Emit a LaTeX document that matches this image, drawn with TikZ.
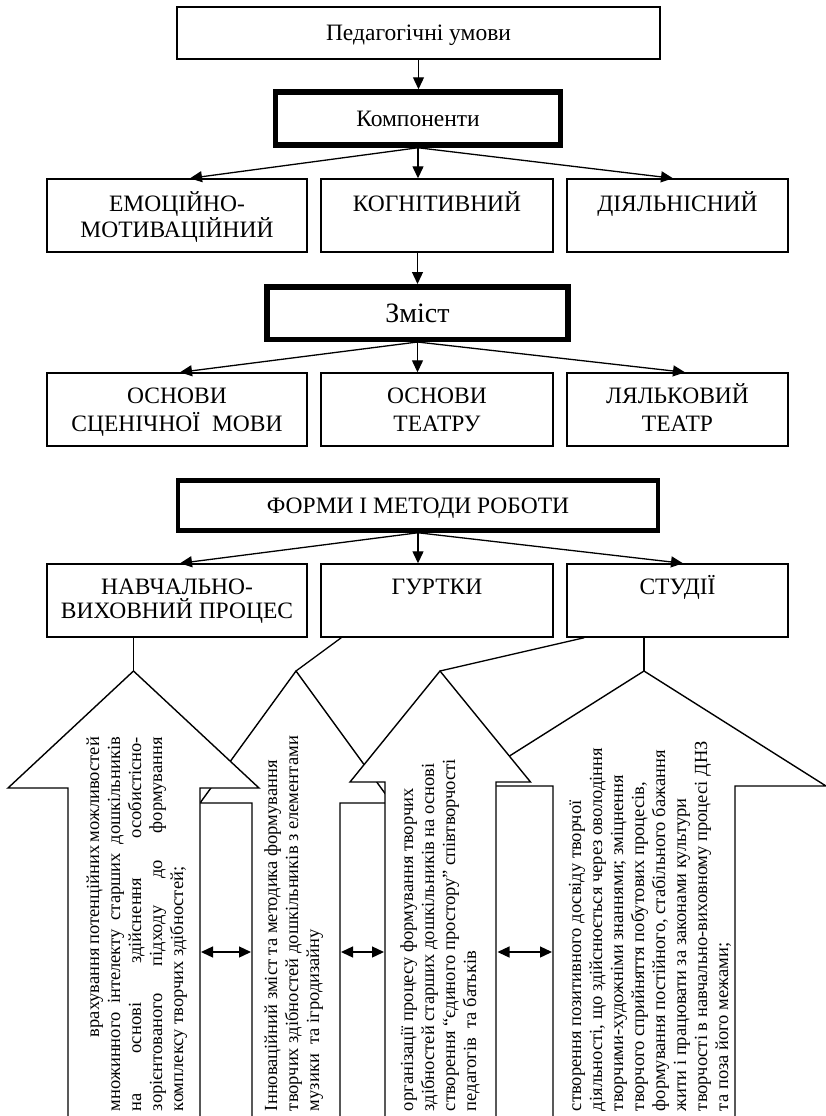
\documentclass[tikz,border=0pt]{standalone}
\usepackage{fontspec}
\setmainfont{Liberation Serif}
\usetikzlibrary{arrows.meta}

% type sizes (1pt of the canvas = 1 unit)
\newcommand\fntbig{\fontsize{23.5}{26}\selectfont}
\newcommand\fnthuge{\fontsize{28}{32}\selectfont}
\newcommand\fntsmall{\fontsize{18.5}{21}\selectfont}

% centred lines with a given line pitch, baseline = first line
\newcommand\stackc[2]{\vtop{\baselineskip=#1\lineskiplimit=-100pt\halign{\hfil##\hfil\cr#2\cr}}}
% left-aligned lines of the small text, baseline = first line
\newcommand\stackl[1]{\fntsmall\vtop{\lineskiplimit=-100pt\halign{##\hfil\cr#1\cr}}}

\begin{document}
\begin{tikzpicture}[x=1pt,y=-1pt,
  thinbox/.style={draw, line width=1.4pt, inner sep=0pt, fill=white},
  thickbox/.style={draw, line width=5.5pt, inner sep=0pt, fill=white},
  lbl/.style={anchor=base, inner sep=0pt, outer sep=0pt, font=\fntbig},
  conn/.style={line width=1.3pt, -{Triangle[length=12pt,width=11pt]}},
  link/.style={line width=1.3pt},
  twoway/.style={line width=1.3pt, {Triangle[length=12pt,width=11pt]}-{Triangle[length=12pt,width=11pt]}},
  blockarrow/.style={draw, fill=white, line width=1.4pt, line join=miter},
  vtext/.style={rotate=90, anchor=base west, inner sep=0pt, outer sep=0pt}
]
\useasboundingbox (0,0) rectangle (826,1116);
\clip (0,0) rectangle (826,1116);

% ---------- upper part: conditions and components ----------
\node[thinbox, minimum width=483pt, minimum height=52pt, font=\fntbig,
      text height=15pt, text depth=0pt] (cond) at (418.5,33) {Педагогічні умови};
\node[thickbox, minimum width=285pt, minimum height=53pt, font=\fntbig,
      text height=15pt, text depth=0pt] (comp) at (418,118.5) {Компоненти};

\node[thinbox, minimum width=260pt, minimum height=73pt] (emo) at (177,215.5) {};
\node[thinbox, minimum width=232pt, minimum height=73pt] (cog) at (437,215.5) {};
\node[thinbox, minimum width=221pt, minimum height=73pt] (act) at (677.5,215.5) {};
\node[lbl] (emoT) at (177,211) {\stackc{26pt}{ЕМОЦІЙНО-\cr МОТИВАЦІЙНИЙ}};
\node[lbl] (cogT) at (437,211) {КОГНІТИВНИЙ};
\node[lbl] (actT) at (677.5,211) {ДІЯЛЬНІСНИЙ};

\draw[conn] (cond.south) -- (cond.south |- comp.north);
\draw[conn] (comp.south) -- ([xshift=13pt]emo.north);
\draw[conn] (comp.south) -- (comp.south |- cog.north);
\draw[conn] (comp.south) -- ([xshift=-4.5pt]act.north);

% ---------- content ----------
\node[thickbox, minimum width=301pt, minimum height=52.5pt, font=\fnthuge,
      text height=18pt, text depth=0pt] (cont) at (417.5,313) {Зміст};
\draw[conn] (cont.north |- cog.south) -- (cont.north);

\node[thinbox, minimum width=260pt, minimum height=73pt] (lang) at (177,409.5) {};
\node[thinbox, minimum width=232pt, minimum height=73pt] (theat) at (437,409.5) {};
\node[thinbox, minimum width=221pt, minimum height=73pt] (pup) at (677.5,409.5) {};
\node[lbl] (langT) at (177,403) {\stackc{28pt}{ОСНОВИ\cr СЦЕНІЧНОЇ~ МОВИ}};
\node[lbl] (theatT) at (437,403) {\stackc{28pt}{ОСНОВИ\cr ТЕАТРУ}};
\node[lbl] (pupT) at (677.5,403) {\stackc{28pt}{ЛЯЛЬКОВИЙ\cr ТЕАТР}};

\draw[conn] (cont.south) -- ([xshift=3pt]lang.north);
\draw[conn] (cont.south) -- (cont.south |- theat.north);
\draw[conn] (cont.south) -- ([xshift=7.5pt]pup.north);

% ---------- forms and methods ----------
\node[thickbox, line width=4.5pt, minimum width=480pt, minimum height=50pt, font=\fntbig,
      text height=15pt, text depth=0pt] (forms) at (418,505.5) {ФОРМИ І МЕТОДИ РОБОТИ};

\node[thinbox, minimum width=260pt, minimum height=73pt] (edu) at (177,600.5) {};
\node[thinbox, minimum width=232pt, minimum height=73pt] (club) at (437,600.5) {};
\node[thinbox, minimum width=221pt, minimum height=73pt] (stud) at (677.5,600.5) {};
\node[lbl] (eduT) at (177,594) {\stackc{24pt}{НАВЧАЛЬНО-\cr ВИХОВНИЙ ПРОЦЕС}};
\node[lbl] (clubT) at (437,594) {ГУРТКИ};
\node[lbl] (studT) at (677.5,594) {СТУДІЇ};

\draw[conn] (forms.south) -- ([xshift=3pt]edu.north);
\draw[conn] (forms.south) -- (forms.south |- club.north);
\draw[conn] (forms.south) -- ([xshift=5.5pt]stud.north);

% ---------- block arrows ----------
\coordinate (tipA) at (133.5,671);
\coordinate (tipB) at (296,671);
\coordinate (tipC) at (440,671);
\coordinate (tipD) at (644,671);

\draw[blockarrow] (tipD) -- (826,786) -- (735,786) -- (735,1130) -- (553,1130)
  -- (553,786) -- (462,786) -- cycle;
\draw[blockarrow] (tipB) -- (392,803) -- (340,803) -- (340,1130) -- (252,1130)
  -- (252,803) -- (200,803) -- cycle;
\draw[blockarrow] (tipC) -- (530.5,782) -- (496,782) -- (496,1130) -- (385,1130)
  -- (385,782) -- (350,782) -- cycle;
\draw[blockarrow] (tipA) -- (259,788) -- (200,788) -- (200,1130) -- (68,1130)
  -- (68,788) -- (8,788) -- cycle;

\draw[link] (edu.south -| tipA) -- (tipA);
\draw[link] ([xshift=21pt]club.south west) -- (tipB);
\draw[link] ([xshift=18pt]stud.south west) -- (tipC);
\draw[link] (stud.south -| tipD) -- (tipD);

% links between neighbouring arrows
\coordinate (gA) at (201,952);  \coordinate (gB) at (251,952);
\coordinate (gC) at (341,952);  \coordinate (gD) at (384,952);
\coordinate (gE) at (497.5,952);\coordinate (gF) at (552,952);
\draw[twoway] (gA) -- (gB);
\draw[twoway] (gC) -- (gD);
\draw[twoway] (gE) -- (gF);

% ---------- texts inside the block arrows ----------
\node[vtext] (txtA) at (99,1111) {\stackl{%
\hskip74pt\makebox[300pt][s]{врахування потенційних можливостей}\cr
\makebox[374pt][s]{множинного інтелекту старших дошкільників}\cr
\makebox[374pt][s]{на основі здійснення особистісно-}\cr
\makebox[374pt][s]{зорієнтованого підходу до формування}\cr
комплексу творчих здібностей;}};

\node[vtext] (txtB) at (277,1111) {\stackl{%
Інноваційний зміст та методика формування\cr
творчих здібностей дошкільників з елементами\cr
музики~ та ігродизайну}};

\node[vtext] (txtC) at (413,1111) {\stackl{%
організації процесу формування творчих\cr
здібностей старших дошкільників на основі\cr
створення “єдиного простору” співтворчості\cr
педагогів~ та батьків}};

\node[vtext] (txtD) at (581,1111) {\stackl{%
створення позитивного досвіду творчої\cr
діяльності, що здійснюється через оволодіння\cr
творчими-художніми знаннями; зміцнення\cr
творчого сприйняття побутових процесів,\cr
формування постійного, стабільного бажання\cr
жити і працювати за законами культури\cr
творчості в навчально-виховному процесі ДНЗ\cr
та поза його межами;}};
\end{tikzpicture}
\end{document}
